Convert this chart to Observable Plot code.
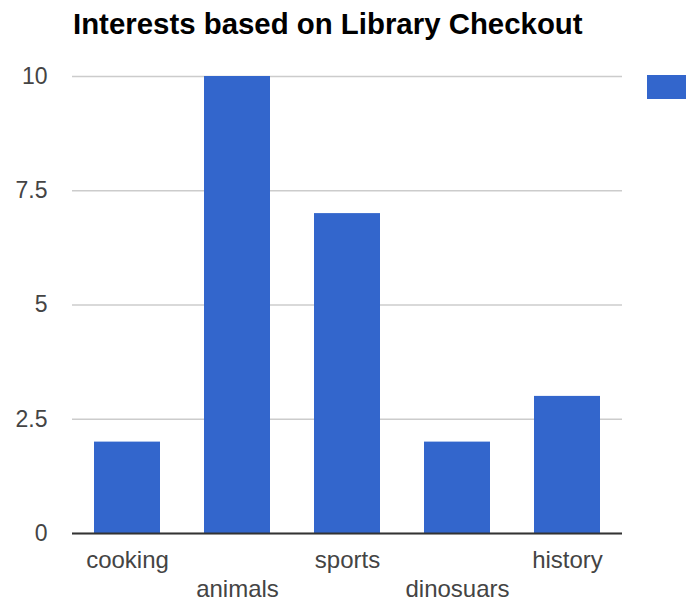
<!DOCTYPE html>
<html>
<head>
<meta charset="utf-8">
<script src="https://cdn.jsdelivr.net/npm/d3@7"></script>
<script src="https://cdn.jsdelivr.net/npm/@observablehq/plot@0.6"></script>
<style>
  html, body { margin: 0; padding: 0; background: #fff; overflow: hidden; }
  #wrap { position: relative; width: 686px; height: 604px; overflow: hidden; font-family: Arial, "Liberation Sans", sans-serif; }
  #title { position: absolute; left: 73px; top: 7px; font-size: 29.4px; font-weight: bold; color: #000; white-space: nowrap; line-height: 34px; }
  #chart { position: absolute; left: 0; top: 50px; }
  #legend { position: absolute; left: 647px; top: 75px; }
  #legend .sw { display: block; width: 50px; height: 24px; background: #3366cc; }
</style>
</head>
<body>
<div id="wrap">
  <div id="title">Interests based on Library Checkout</div>
  <div id="chart"></div>
  <div id="legend"><span class="sw"></span></div>
</div>
<script>
const categories = ["cooking", "animals", "sports", "dinosuars", "history"];
const values = [2, 10, 7, 2, 3];
const yTicks = [0, 2.5, 5, 7.5, 10];
const yTickLabels = ["0", "2.5", "5", "7.5", "10"];

const data = categories.map((c, i) => ({category: c, value: values[i]}));
const upper = categories.filter((c, i) => i % 2 === 0);
const lower = categories.filter((c, i) => i % 2 === 1);

const chart = Plot.plot({
  width: 686,
  height: 554,
  marginLeft: 72,
  marginRight: 64,
  marginTop: 26,
  marginBottom: 71,
  style: {fontFamily: 'Arial, "Liberation Sans", sans-serif', fontSize: "23px", background: "#fff"},
  x: {domain: categories, paddingInner: 0.4, paddingOuter: 0.2, label: null},
  y: {domain: [0, 10], label: null},
  marks: [
    Plot.gridY(yTicks, {stroke: "#cccccc", strokeOpacity: 1, strokeWidth: 1.5}),
    Plot.barY(data, {x: "category", y: "value", fill: "#3366cc"}),
    Plot.ruleY([0], {stroke: "#333333", strokeWidth: 2}),
    Plot.axisY(yTicks, {tickSize: 0, tickPadding: 25, fill: "#444444", fontSize: 23, tickFormat: (d) => yTickLabels[yTicks.indexOf(d)], label: null}),
    Plot.axisX(upper, {tickSize: 0, tickPadding: 17, fill: "#444444", fontSize: 24, label: null}),
    Plot.axisX(lower, {tickSize: 0, tickPadding: 46, fill: "#444444", fontSize: 24, label: null})
  ]
});
document.getElementById("chart").appendChild(chart);
</script>
</body>
</html>
